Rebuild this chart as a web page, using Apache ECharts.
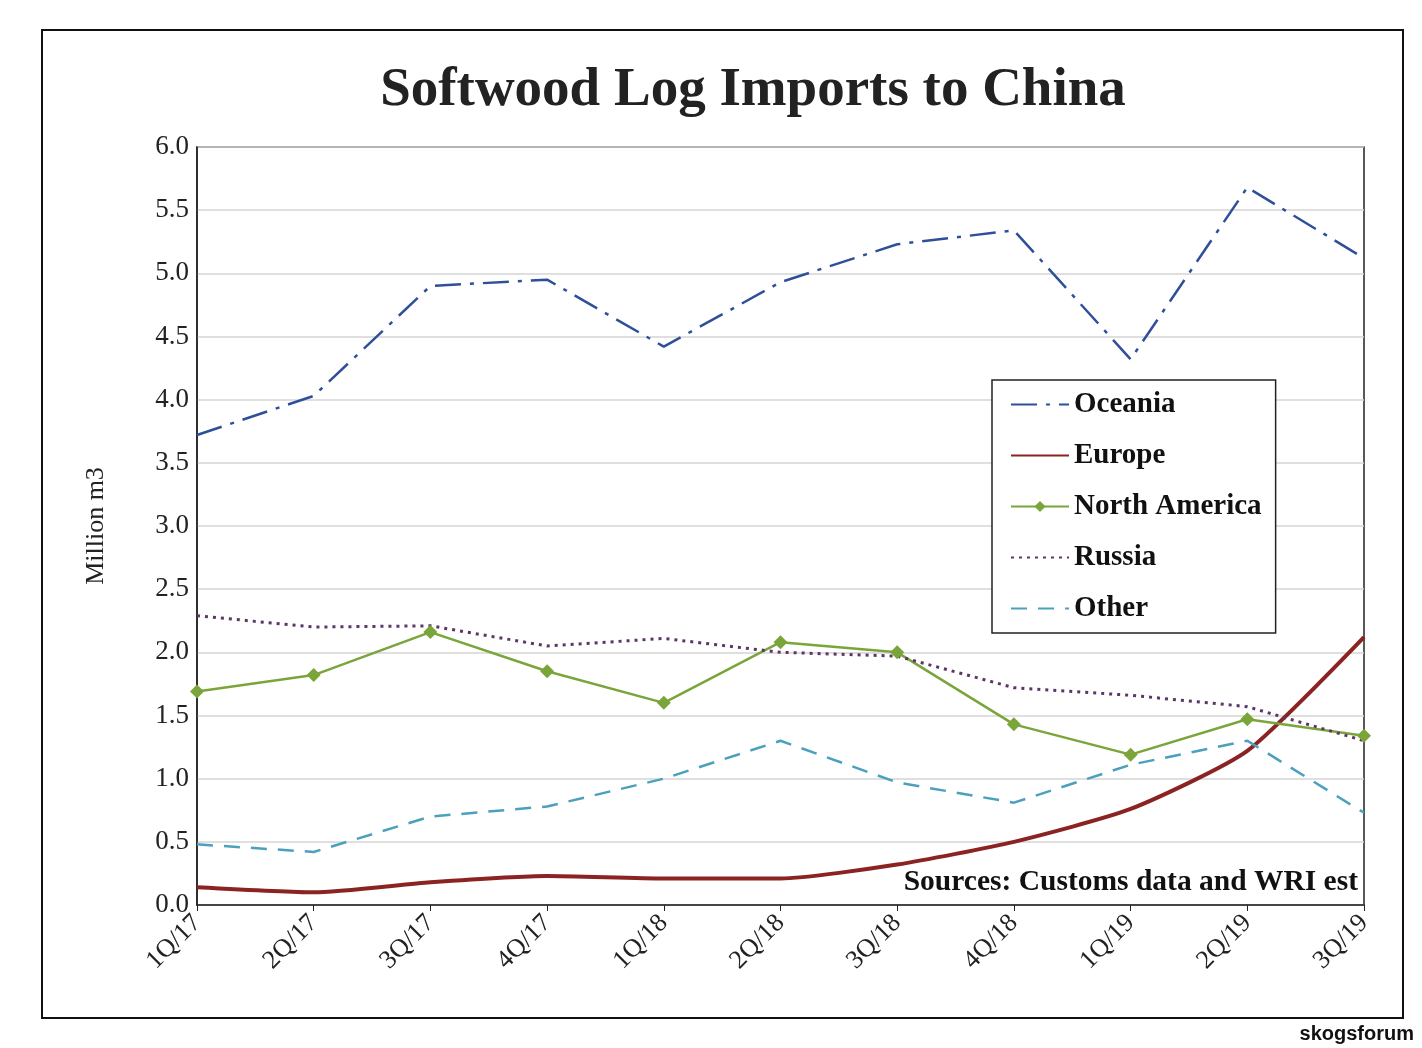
<!DOCTYPE html>
<html><head><meta charset="utf-8">
<script src="https://cdn.jsdelivr.net/npm/echarts@6/dist/echarts.min.js"></script>
<style>html,body{margin:0;padding:0;background:#fff}#main{width:1422px;height:1048px}</style>
</head><body><div id="main"></div>
<script>
const categories = ["1Q/17","2Q/17","3Q/17","4Q/17","1Q/18","2Q/18","3Q/18","4Q/18","1Q/19","2Q/19","3Q/19"];
const oceania = [3.72, 4.03, 4.90, 4.95, 4.42, 4.93, 5.23, 5.34, 4.32, 5.68, 5.12];
const europe = [0.14, 0.10, 0.18, 0.23, 0.21, 0.21, 0.32, 0.50, 0.76, 1.22, 2.12];
const northAmerica = [1.69, 1.82, 2.16, 1.85, 1.60, 2.08, 2.00, 1.43, 1.19, 1.47, 1.34];
const russia = [2.29, 2.20, 2.21, 2.05, 2.11, 2.00, 1.97, 1.72, 1.66, 1.57, 1.30];
const other = [0.48, 0.42, 0.70, 0.78, 1.00, 1.30, 0.97, 0.81, 1.11, 1.30, 0.73];

const font = "Liberation Serif";
const noMark = { opacity: 0 };
var myChart = echarts.init(document.getElementById("main"));

var option = {
  backgroundColor: "#fff",
  animation: false,
  textStyle: { fontFamily: font },
  title: {
    text: "Softwood Log Imports to China",
    left: 748, top: 58, textAlign: "center",
    textStyle: { fontFamily: font, fontSize: 55, fontWeight: "bold", color: "#222" }
  },
  grid: { left: 197, right: 58, top: 147, bottom: 143, show: true, borderColor: "#222", borderWidth: 1.5 },
  legend: {
    orient: "vertical", left: 992, top: 380,
    backgroundColor: "#fff", borderColor: "#222", borderWidth: 1.5,
    padding: [10, 14, 10, 18], itemGap: 22, itemWidth: 58, itemHeight: 14,
    textStyle: { fontFamily: font, fontSize: 29, fontWeight: "bold", color: "#111" },
    data: [
      { name: "Oceania", itemStyle: noMark },
      { name: "Europe", itemStyle: noMark },
      { name: "North America" },
      { name: "Russia", itemStyle: noMark },
      { name: "Other", itemStyle: noMark }
    ]
  },
  xAxis: {
    type: "category", data: categories, boundaryGap: false,
    axisLine: { lineStyle: { color: "#222", width: 1.5 } },
    axisTick: { show: true, length: 6, lineStyle: { color: "#222" } },
    axisLabel: { rotate: 45, fontFamily: font, fontSize: 26, color: "#222", margin: 14 },
    splitLine: { show: false }
  },
  yAxis: {
    type: "value", min: 0, max: 6, interval: 0.5,
    name: "Million m3", nameLocation: "middle", nameGap: 88,
    nameTextStyle: { fontFamily: font, fontSize: 26, color: "#222" },
    axisLine: { show: true, lineStyle: { color: "#222", width: 1.5 } },
    axisTick: { show: false },
    axisLabel: { fontFamily: font, fontSize: 27, color: "#222", formatter: v => v.toFixed(1) },
    splitLine: { lineStyle: { color: "#d4d4d4", width: 1.5 } }
  },
  graphic: [
    { type: "rect", shape: { x: 42, y: 30, width: 1361, height: 988 }, style: { fill: null, stroke: "#111", lineWidth: 2 }, z: -1 },
    { type: "text", right: 64, top: 867, style: { text: "Sources: Customs data and WRI est", fontFamily: font, fontSize: 29.5, fontWeight: "bold", fill: "#111" } },
    { type: "text", right: 8, top: 1024, style: { text: "skogsforum", fontFamily: "Liberation Sans", fontWeight: "bold", fontSize: 20, fill: "#111" } }
  ],
  series: [
    { name: "Oceania", type: "line", data: oceania, symbol: "none", color: "#2f4f9a",
      lineStyle: { width: 2.5, type: [26, 9, 4, 9], color: "#2f4f9a" } },
    { name: "Europe", type: "line", data: europe, symbol: "none", smooth: 0.2, color: "#8b2323",
      lineStyle: { width: 4, color: "#8b2323" } },
    { name: "North America", type: "line", data: northAmerica, symbol: "diamond", symbolSize: 14, color: "#7aa53a",
      itemStyle: { color: "#7aa53a" }, lineStyle: { width: 2.5, color: "#7aa53a" } },
    { name: "Russia", type: "line", data: russia, symbol: "none", color: "#5e3568",
      lineStyle: { width: 3, type: [3, 5], color: "#5e3568" } },
    { name: "Other", type: "line", data: other, symbol: "none", color: "#4aa0bd",
      lineStyle: { width: 2.5, type: [16, 11], color: "#4aa0bd" } }
  ]
};
myChart.setOption(option);
</script></body></html>
